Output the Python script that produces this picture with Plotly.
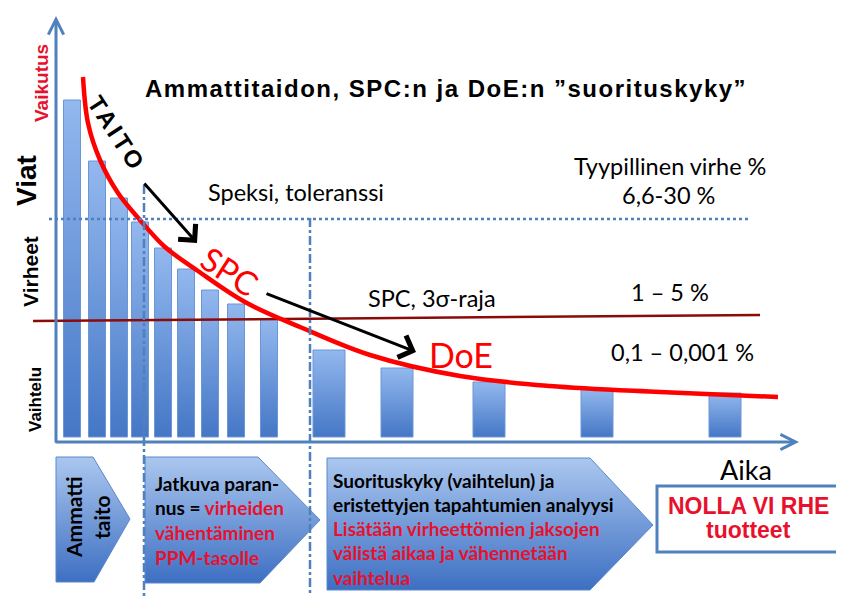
import plotly.graph_objects as go

# bar heights (defect level above the time axis)
bar_time = [15, 40, 62, 83, 106, 129, 153, 179, 212, 272, 340, 432, 540, 668]
bar_level = [337, 276, 239, 215, 189, 168, 147, 133, 118, 87, 69, 55, 48, 44]

# red "suorituskyky" curve
curve_time = [26, 31, 43, 61, 83, 108, 141, 188, 243, 313, 403, 493, 603, 721]
curve_level = [360, 314, 277, 244, 217, 190, 166, 135, 110, 82, 61, 51, 45, 40]

# limits
spec_limit = 218            # Speksi, toleranssi
sigma_time = [-24, 703]
sigma_limit = [116, 122]    # SPC, 3 sigma -raja

# origin of the chart inside the 844x603 page
X0, Y0 = 57, 437
W, H = 844, 603
OFF = 8   # page body margin, the figure starts 8px in

AXIS = "#4f81bd"
RED = "#ff0000"
TXT_RED = "#e8112d"
BODY = "Lato"


def X(px):
    return px - X0


def Y(py):
    return Y0 - py


fig = go.Figure()

# chevrons in the bottom row
chevrons = [
    [(56, 457), (93, 457), (130, 519), (94, 582), (56, 582)],
    [(145, 457), (258, 457), (320, 520), (260, 583), (145, 583)],
    [(327, 458), (590, 458), (653, 525), (590, 590), (327, 590)],
]
for pts in chevrons:
    xs = [X(p[0]) for p in pts] + [X(pts[0][0])]
    ys = [Y(p[1]) for p in pts] + [Y(pts[0][1])]
    fig.add_trace(go.Scatter(
        x=xs, y=ys, mode="lines", fill="toself",
        fillgradient=dict(type="vertical", colorscale=[[0, "#3d6fc2"], [1, "#abc7ef"]]),
        line=dict(color="#5a88cc", width=1),
        hoverinfo="skip", showlegend=False,
    ))

# bars
for t, h in zip(bar_time, bar_level):
    w = 17 if t < 250 else 32
    fig.add_trace(go.Scatter(
        x=[t - w / 2, t + w / 2, t + w / 2, t - w / 2, t - w / 2],
        y=[0, 0, h, h, 0],
        mode="lines", fill="toself",
        fillgradient=dict(type="vertical", colorscale=[[0, "#4577c6"], [1, "#93b8ee"]]),
        line=dict(color="#6a97d6", width=1),
        hoverinfo="skip", showlegend=False,
    ))

# 3 sigma line
fig.add_trace(go.Scatter(
    x=sigma_time, y=sigma_limit, mode="lines",
    line=dict(color="#8b0a0a", width=2.5),
    hoverinfo="skip", showlegend=False,
))

# curve
fig.add_trace(go.Scatter(
    x=curve_time, y=curve_level, mode="lines",
    line=dict(color=RED, width=4.5, shape="spline", smoothing=1.0),
    hoverinfo="skip", showlegend=False,
))

# spec limit (dotted) and dash-dot phase separators
fig.add_shape(type="line", x0=X(49), x1=X(750), y0=spec_limit, y1=spec_limit,
              line=dict(color=AXIS, width=2.5, dash="dot"), layer="above")
fig.add_shape(type="line", x0=X(144), x1=X(144), y0=Y(185), y1=Y(596),
              line=dict(color=AXIS, width=2.5, dash="dashdot"), layer="above")
fig.add_shape(type="line", x0=X(310), x1=X(310), y0=Y(218), y1=Y(596),
              line=dict(color=AXIS, width=2.5, dash="dashdot"), layer="above")

# result box
fig.add_shape(type="rect", x0=X(657), x1=X(840), y0=Y(486), y1=Y(552),
              fillcolor="white", line=dict(color=AXIS, width=3), layer="above")


def arrow(x0, y0, x1, y1, color, width, head, size=1):
    fig.add_annotation(x=X(x1), y=Y(y1), ax=X(x0), ay=Y(y0),
                       xref="x", yref="y", axref="x", ayref="y",
                       text="", showarrow=True, arrowhead=head, arrowsize=size,
                       arrowwidth=width, arrowcolor=color)


# axes
arrow(56, 444, 56, 16, AXIS, 3, 5)
arrow(54, 442, 799, 442, AXIS, 3, 5)
# black arrows
arrow(143, 182, 197, 243, "black", 3, 4, 1.5)
arrow(265, 293, 416, 352, "black", 3, 4, 1.5)


def label(text, px, py, size, color="black", family=BODY, bold=False, angle=0,
          anchor="center", spacing=0):
    if spacing:
        text = "<span style='letter-spacing:%spx'>%s</span>" % (spacing, text)
    if bold:
        text = "<b>" + text + "</b>"
    fig.add_annotation(x=X(px), y=Y(py), xref="x", yref="y", text=text,
                       showarrow=False, textangle=angle, xanchor=anchor, yanchor="middle",
                       font=dict(family=family, size=size, color=color))


label("Ammattitaidon, SPC:n ja DoE:n \u201dsuorituskyky\u201d", 446, 88, 24,
      family="Liberation Sans", bold=True, spacing=1.5)
label("TAITO", 117, 133, 24, family="Liberation Sans", bold=True, angle=57, spacing=3)
label("SPC", 230, 271, 33, color=RED, angle=33)
label("DoE", 461, 354, 34, color=RED)
label("Speksi, toleranssi", 296, 192, 23.5)
label("Tyypillinen virhe %", 670, 166, 23.5)
label("6,6-30 %", 668, 195, 23.5)
label("SPC, 3\u03c3-raja", 432, 298, 23.5)
label("1 \u2013 5 %", 670, 292, 23.5)
label("0,1 \u2013 0,001 %", 682, 352, 23.5)
label("Aika", 746, 469, 27)

# left side labels
label("Vaikutus", 41, 83, 19, color=TXT_RED, family="Liberation Sans", bold=True, angle=-90)
label("Viat", 26, 181, 28, family="Liberation Sans", bold=True, angle=-90)
label("Virheet", 30, 272, 21, family="Liberation Sans", bold=True, angle=-90)
label("Vaihtelu", 35, 400, 17, family="Liberation Sans", bold=True, angle=-90)

# chevron texts
label("Ammatti", 73, 517, 21, bold=True, angle=-90)
label("taito", 101, 517, 21, bold=True, angle=-90)

red = lambda s: "<span style='color:%s'>%s</span>" % (TXT_RED, s)
lines2 = ["Jatkuva paran-", "nus = " + red("virheiden"), red("vähentäminen"), red("PPM-tasolle")]
for i, s in enumerate(lines2):
    label(s, 153, 483 + i * 24.7, 19, bold=True, anchor="left")

lines3 = ["Suorituskyky (vaihtelun) ja", "eristettyjen tapahtumien analyysi",
          red("Lisätään virheettömien jaksojen"), red("välistä aikaa ja vähennetään"),
          red("vaihtelua")]
for i, s in enumerate(lines3):
    label(s, 331, 480 + i * 24.3, 19, bold=True, anchor="left")

label("NOLLA VI RHE", 748, 506, 23, color=TXT_RED, family="Liberation Sans", bold=True)
label("tuotteet", 748, 530, 23, color=TXT_RED, family="Liberation Sans", bold=True)

fig.update_layout(
    width=W - OFF, height=H - OFF,
    margin=dict(l=0, r=0, t=0, b=0),
    paper_bgcolor="white", plot_bgcolor="white",
    showlegend=False,
    xaxis=dict(range=[X(OFF), X(W)], visible=False, fixedrange=True),
    yaxis=dict(range=[Y(H), Y(OFF)], visible=False, fixedrange=True),
)

fig.write_html("out.html")
